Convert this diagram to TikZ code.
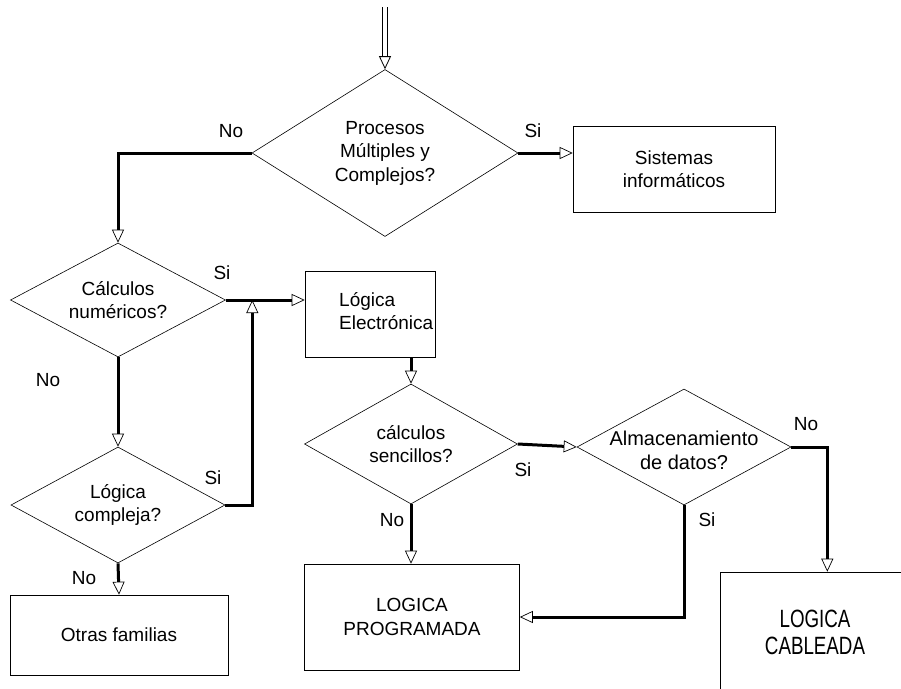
\documentclass[tikz,border=0pt]{standalone}
\usepackage{fontspec}
\setmainfont{Liberation Sans}
\newfontfamily\narrowfont[FakeStretch=0.75]{Liberation Sans}
\usetikzlibrary{shapes.geometric, arrows.meta, positioning}

\begin{document}
\begin{tikzpicture}[x=1pt, y=-1pt,
    font=\fontsize{19}{23.5}\selectfont,
    dec/.style 2 args={diamond, draw, line width=0.6pt, minimum width=#1,
        minimum height=#2, inner sep=0pt},
    dtxt/.style={align=center, inner sep=0pt},
    box/.style 2 args={draw, line width=0.6pt, minimum width=#1,
        minimum height=#2, align=center, inner sep=0pt},
    lbl/.style={inner sep=0pt},
    flow/.style={line width=3pt,
        -{Triangle[open, length=13pt, width=12pt, line width=0.7pt]}},
    entry/.style={double, double distance=3.5pt, line width=0.8pt,
        -{Triangle[open, length=13pt, width=12pt, line width=0.8pt]}},
  ]
  \useasboundingbox (0,0) rectangle (901,688);
  % decisions and blocks
  \coordinate (start) at (385,7);
  \node[dec={266}{167}] (procesos) at (385,153) {};
  \node[dtxt] (procesos_t) at (procesos) {Procesos\\M\'ultiples y\\Complejos?};
  \node[box={202}{86}] (sistemas) at (674,169) {Sistemas\\inform\'aticos};
  \node[dec={215}{114}] (calculos) at (118,300) {};
  \node[dtxt] (calculos_t) at (calculos) {C\'alculos\\num\'ericos?};
  \node[box={130}{86}] (electronica) at (370,314) {};
  \node[anchor=west, align=left, inner sep=0pt] (electronica_t) at (339,311) {L\'ogica\\Electr\'onica};
  \node[dec={214}{116}] (compleja) at (118,505) {};
  \node[dtxt] (compleja_t) at (compleja) {L\'ogica\\compleja?};
  \node[box={218}{80}] (otras) at (119,635) {Otras familias};
  \node[dec={213}{120}] (sencillos) at (411,444) {};
  \node[dtxt] (sencillos_t) at (sencillos) {c\'alculos\\sencillos?};
  \node[dec={214}{116}] (almacen) at (684,447) {};
  \node[dtxt, font=\fontsize{20}{24}\selectfont] (almacen_t) at (684,450) {Almacenamiento\\de datos?};
  \node[box={215}{106}] (programada) at (412,617) {LOGICA\\PROGRAMADA};
  \node[box={190}{120}, font=\narrowfont\fontsize{25}{27}\selectfont] (cableada) at (815,632) {LOGICA\\CABLEADA};
  % labels
  \node[lbl] (l_no1) at (231,131) {No};
  \node[lbl] (l_si1) at (533,131) {Si};
  \node[lbl] (l_si2) at (222,273) {Si};
  \node[lbl] (l_no2) at (48,380) {No};
  \node[lbl] (l_si3) at (213,478) {Si};
  \node[lbl] (l_no3) at (84,578) {No};
  \node[lbl] (l_si4) at (523,470) {Si};
  \node[lbl] (l_no4) at (392,520) {No};
  \node[lbl] (l_si5) at (707,520) {Si};
  \node[lbl] (l_no5) at (806,424) {No};
  % connectors
  \draw[entry] (start) -- (procesos.north);
  \draw[flow] (procesos.west) -| (calculos.north);
  \draw[flow] (procesos.east) -- (procesos.east -| sistemas.west);
  \draw[flow] (calculos.east) -- (calculos.east -| electronica.west);
  \draw[flow] (calculos.south) -- (compleja.north);
  \draw[flow] (compleja.south) -- (otras.north);
  \coordinate (loop) at ([xshift=27pt]compleja.east);
  \draw[flow] (compleja.east) -- (loop) -- (loop |- calculos.east);
  \draw[flow] (electronica.south -| sencillos.north) -- (sencillos.north);
  \draw[flow] (sencillos.east) -- (almacen.west);
  \draw[flow] (sencillos.south) -- (sencillos.south |- programada.north);
  \draw[flow] (almacen.south) |- (programada.east);
  \coordinate (drop) at ([xshift=36pt]almacen.east);
  \draw[flow] (almacen.east) -- (drop) -- (drop |- cableada.north);
\end{tikzpicture}
\end{document}
